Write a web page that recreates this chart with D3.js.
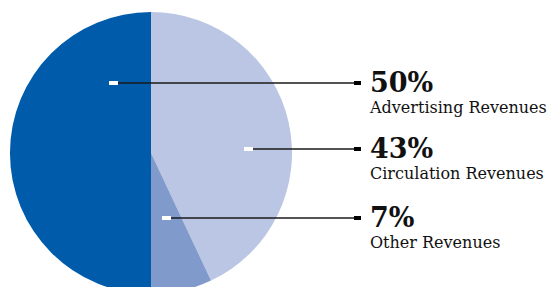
<!DOCTYPE html>
<html>
<head>
  <script src="https://d3js.org/d3.v7.min.js"></script>
</head>
<body style="margin:0px; overflow:hidden; background:#fff;">
  <svg id="chart" width="548" height="287"></svg>
  <script>
    // Data
    const categories = ["Advertising Revenues", "Circulation Revenues", "Other Revenues"];
    const shares = [50, 43, 7];
    const shareLabels = ["50%", "43%", "7%"];
    const colors = ["#005cab", "#bac6e3", "#809acb"];
    // order in which slices are drawn clockwise from 12 o'clock
    const sliceOrder = [1, 2, 0];

    // Layout
    const cx = 151, cy = 153, radius = 141;
    // left end of each leader line, relative to pie centre
    const anchors = [[-42, -70], [93, -4], [11, 65]];
    const lineEnd = 354;
    const textX = 370;

    const svg = d3.select("#chart");
    const g = svg.append("g").attr("transform", "translate(" + cx + "," + cy + ")");

    const pie = d3.pie()
      .sort(null)
      .value(function (i) { return shares[i]; });

    const arc = d3.arc().innerRadius(0).outerRadius(radius);

    g.selectAll("path")
      .data(pie(sliceOrder))
      .enter()
      .append("path")
      .attr("d", arc)
      .attr("fill", function (d) { return colors[d.data]; });

    // Leader lines + labels
    const leaders = svg.append("g");
    categories.forEach(function (name, i) {
      const ax = cx + anchors[i][0];
      const ay = cy + anchors[i][1];
      leaders.append("line")
        .attr("x1", ax + 9).attr("x2", lineEnd)
        .attr("y1", ay).attr("y2", ay)
        .attr("stroke", "#1a1a1a")
        .attr("stroke-width", 1.4);
      leaders.append("rect")
        .attr("x", ax).attr("y", ay - 2)
        .attr("width", 9).attr("height", 4)
        .attr("fill", "#fff");
      leaders.append("rect")
        .attr("x", lineEnd).attr("y", ay - 2)
        .attr("width", 7).attr("height", 4)
        .attr("fill", "#000");

      const t = svg.append("g");
      t.append("text")
        .attr("x", textX).attr("y", ay + 9)
        .attr("font-family", "DejaVu Serif")
        .attr("font-weight", "bold")
        .attr("font-size", 27)
        .attr("fill", "#111")
        .text(shareLabels[i]);
      t.append("text")
        .attr("x", textX).attr("y", ay + 30)
        .attr("font-family", "DejaVu Serif")
        .attr("font-size", 16)
        .attr("fill", "#111")
        .text(name);
    });
  </script>
</body>
</html>
